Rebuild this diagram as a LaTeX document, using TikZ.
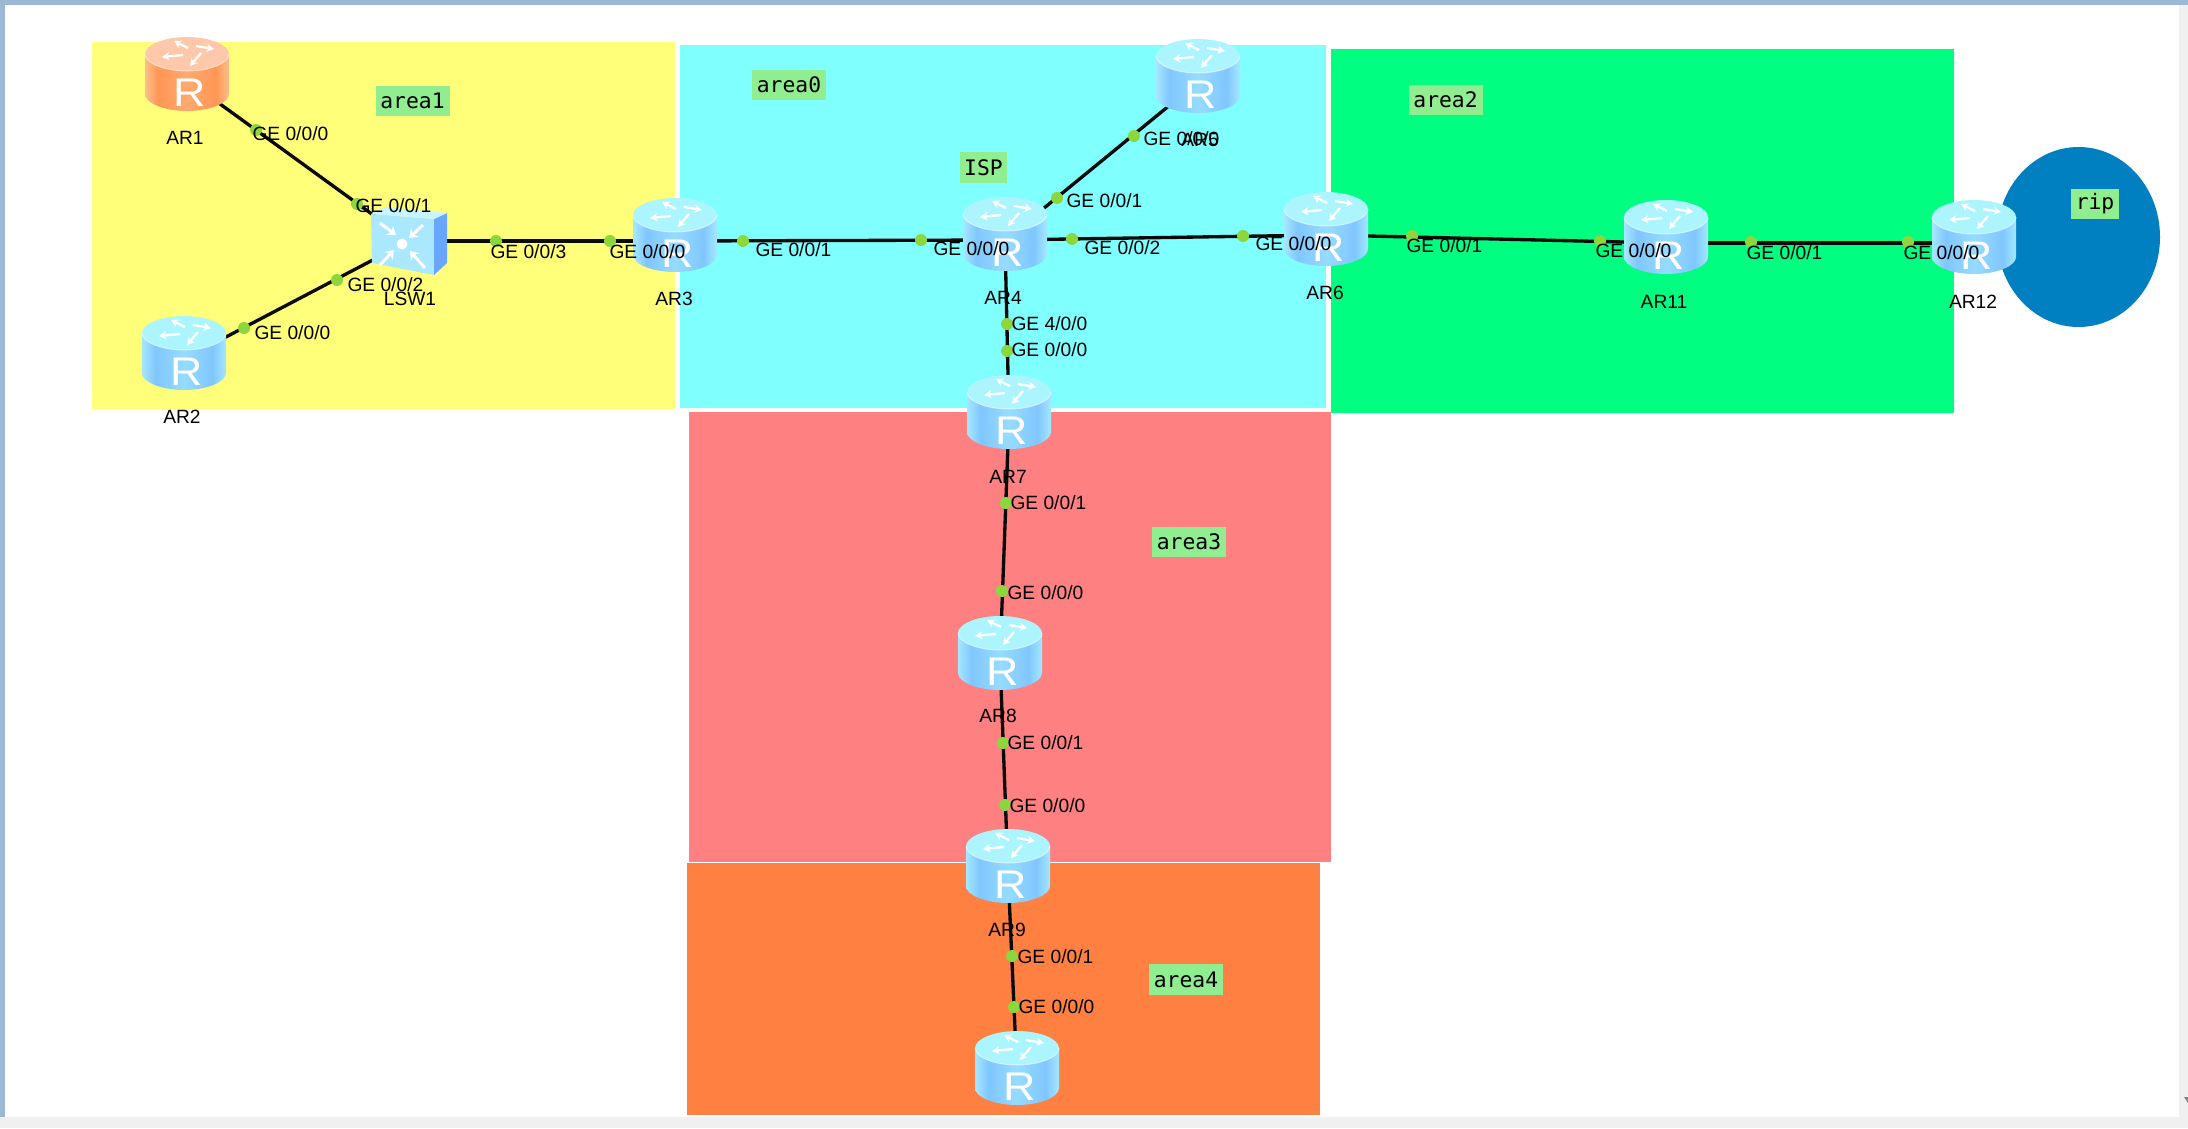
\documentclass[tikz,border=0pt]{standalone}
\usepackage{fontspec}
\setmainfont{Liberation Sans}
\setmonofont{DejaVu Sans Mono}
\usetikzlibrary{arrows.meta}

\definecolor{areaone}{RGB}{255,255,122}
\definecolor{areazero}{RGB}{128,255,255}
\definecolor{areatwo}{RGB}{0,255,128}
\definecolor{areathree}{RGB}{255,128,128}
\definecolor{areafour}{RGB}{255,128,64}
\definecolor{ripblue}{RGB}{0,128,192}
\definecolor{framecol}{RGB}{157,184,210}
\definecolor{portgreen}{RGB}{140,215,60}
\definecolor{tagback}{RGB}{144,238,144}
\definecolor{topblue}{RGB}{172,245,255}
\definecolor{toporange}{RGB}{255,200,170}

\pgfdeclarehorizontalshading{routerblue}{100bp}{color(0bp)=(rgb,255:red,165;green,232;blue,255);
 color(25bp)=(rgb,255:red,165;green,232;blue,255); color(33bp)=(rgb,255:red,128;green,198;blue,255);
 color(50bp)=(rgb,255:red,150;green,220;blue,255); color(67bp)=(rgb,255:red,128;green,198;blue,255);
 color(75bp)=(rgb,255:red,165;green,232;blue,255); color(100bp)=(rgb,255:red,165;green,232;blue,255)}
\pgfdeclarehorizontalshading{routerorange}{100bp}{color(0bp)=(rgb,255:red,255;green,190;blue,140);
 color(25bp)=(rgb,255:red,255;green,190;blue,140); color(33bp)=(rgb,255:red,255;green,150;blue,85);
 color(50bp)=(rgb,255:red,255;green,170;blue,110); color(67bp)=(rgb,255:red,255;green,150;blue,85);
 color(75bp)=(rgb,255:red,255;green,190;blue,140); color(100bp)=(rgb,255:red,255;green,190;blue,140)}

\tikzset{every picture/.style={line width=0.75pt},
  link/.style={line width=2.5pt,color={rgb, 255:red, 10; green, 10; blue, 10 }},
  anchorpt/.style={inner sep=0pt,minimum size=0pt},
  portdot/.style={circle,fill=portgreen,inner sep=0pt,minimum size=9pt},
  portlabel/.style={anchor=west,inner sep=0pt,font=\fontsize{14.4}{16}\selectfont},
  devlabel/.style={anchor=center,inner sep=0pt,font=\fontsize{14.4}{16}\selectfont},
  areatag/.style={fill=tagback,inner sep=0pt,minimum width=55.5pt,minimum height=23.2pt,font=\fontsize{16}{18}\ttfamily},
  isptag/.style={areatag,minimum width=35.5pt},
  iconarrow/.style={draw=white,line width=1.7pt,-{Stealth[length=5.5pt,width=6pt]}},
  switcharrow/.style={draw=white,line width=2.2pt,-{Stealth[length=6pt,width=8.5pt]}},
  pics/routericon/.style n args={2}{code={
    \begin{scope}[yscale=-1]
    \shade [shading=#1] (-42,-26) -- (-42,14) .. controls (-42,23) and (-23,31) .. (0,31) .. controls (23,31) and (42,23) .. (42,14) -- (42,-26) -- cycle ;
    \fill [#2] (-42,-26) .. controls (-42,-35) and (-23,-43) .. (0,-43) .. controls (23,-43) and (42,-35) .. (42,-26) .. controls (42,-17) and (23,-9) .. (0,-9) .. controls (-23,-9) and (-42,-17) .. (-42,-26) -- cycle ;
    \draw [white,opacity=0.5] (-42,-26) .. controls (-42,-17) and (-23,-9) .. (0,-9) .. controls (23,-9) and (42,-17) .. (42,-26) ;
    \draw [iconarrow] (1,-32) -- (-13,-39) ;
    \draw [iconarrow] (9,-34) -- (27,-31) ;
    \draw [iconarrow] (-4,-25) -- (-25,-23) ;
    \draw [iconarrow] (14,-27) -- (3,-14) ;
    \node (-R) at (2.5,26) [anchor=base,inner sep=0pt,text=white,font=\fontsize{30}{31}\selectfont] {\scalebox{1.12}[1]{R}};
    \end{scope}
  }},
}

\begin{document}
\begin{tikzpicture}[x=0.75pt,y=0.75pt,yscale=-1,xscale=1]

%Window
\fill [color={rgb, 255:red, 240; green, 240; blue, 240 }] (0,0) rectangle (2188,1128) ;
\fill [white] (5,5) rectangle (2179,1117) ;
\fill [framecol] (0,0) rectangle (2188,5) ;
\fill [framecol] (0,0) rectangle (5,1117) ;
\fill [color={rgb, 255:red, 130; green, 130; blue, 130 }] (2184,1097) -- (2188,1097) -- (2188,1103) -- cycle ;

%Areas
\fill [areaone] (92,42) rectangle (675,409) ;
\fill [areazero] (680,45) rectangle (1326,408) ;
\fill [areatwo] (1331,49) rectangle (1954,413) ;
\fill [areathree] (689,412) rectangle (1331,862) ;
\fill [areafour] (687,863) rectangle (1320,1115) ;
%Shape: Ellipse
\fill [ripblue] (2078.5,237) ellipse [x radius=81.5,y radius=90] ;

%Link ends
\node [anchorpt] (AR1) at (187,80) {};
\node [anchorpt] (AR2) at (184,359) {};
\node [anchorpt] (LSW1) at (409,241) {};
\node [anchorpt] (AR3) at (675,241) {};
\node [anchorpt] (AR4) at (1005,240) {};
\node [anchorpt] (AR5) at (1198,82) {};
\node [anchorpt] (AR6) at (1326,235) {};
\node [anchorpt] (AR7) at (1009,418) {};
\node [anchorpt] (AR8) at (1000,659) {};
\node [anchorpt] (AR9) at (1008,872) {};
\node [anchorpt] (AR10) at (1017,1074) {};
\node [anchorpt] (AR11) at (1666,243) {};
\node [anchorpt] (AR12) at (1974,243) {};

%Straight Lines
\draw [link] (AR1) -- (LSW1) ;
\draw [link] (AR2) -- (LSW1) ;
\draw [link] (LSW1) -- (AR3) ;
\draw [link] (AR3) -- (AR4) ;
\draw [link] (AR4) -- (AR5) ;
\draw [link] (AR4) -- (AR6) ;
\draw [link] (AR4) -- (AR7) ;
\draw [link] (AR7) -- (AR8) ;
\draw [link] (AR8) -- (AR9) ;
\draw [link] (AR9) -- (AR10) ;
\draw [link] (AR6) -- (AR11) ;
\draw [link] (AR11) -- (AR12) ;

%Routers
\pic (AR1i) at (AR1) {routericon={routerorange}{toporange}};
\pic (AR2i) at (AR2) {routericon={routerblue}{topblue}};
\pic (AR3i) at (AR3) {routericon={routerblue}{topblue}};
\pic (AR4i) at (AR4) {routericon={routerblue}{topblue}};
\pic (AR5i) at (AR5) {routericon={routerblue}{topblue}};
\pic (AR6i) at (AR6) {routericon={routerblue}{topblue}};
\pic (AR7i) at (AR7) {routericon={routerblue}{topblue}};
\pic (AR8i) at (AR8) {routericon={routerblue}{topblue}};
\pic (AR9i) at (AR9) {routericon={routerblue}{topblue}};
\pic (AR10i) at (AR10) {routericon={routerblue}{topblue}};
\pic (AR11i) at (AR11) {routericon={routerblue}{topblue}};
\pic (AR12i) at (AR12) {routericon={routerblue}{topblue}};

%Switch
\begin{scope}[shift={(LSW1)}]
\fill [color={rgb, 255:red, 170; green, 232; blue, 255 }] (-38,-27) -- (25,-22) -- (25,34) -- (-37,22) -- cycle ;
\fill [color={rgb, 255:red, 106; green, 165; blue, 255 }] (25,-22) -- (38,-28) -- (38,22) -- (25,34) -- cycle ;
\fill [color={rgb, 255:red, 200; green, 245; blue, 255 }] (-38,-27) -- (-24,-34) -- (38,-28) -- (25,-22) -- cycle ;
\fill [white] (-7,3) circle [x radius=5.5,y radius=5.5] ;
\draw [switcharrow] (-29,-18) -- (-13,-6) ;
\draw [switcharrow] (14,-16) -- (0,-3) ;
\draw [switcharrow] (-29,24) -- (-15,9) ;
\draw [switcharrow] (16,27) -- (1,10) ;
\end{scope}

%Shape: Circle
\node [portdot] (AR1d0) at (256,130) {};
\node [portdot] (LSW1d1) at (357,204) {};
\node [portdot] (LSW1d2) at (337,280) {};
\node [portdot] (AR2d0) at (244,328) {};
\node [portdot] (LSW1d3) at (496,241) {};
\node [portdot] (AR3d0) at (610,241) {};
\node [portdot] (AR3d1) at (743,241) {};
\node [portdot] (AR4d0) at (921,240) {};
\node [portdot] (AR4d1) at (1057,198) {};
\node [portdot] (AR5d0) at (1134,136) {};
\node [portdot] (AR4d2) at (1072,239) {};
\node [portdot] (AR6d0) at (1243,236) {};
\node [portdot] (AR4d4) at (1007,324) {};
\node [portdot] (AR7d0) at (1007,351) {};
\node [portdot] (AR7d1) at (1006,503) {};
\node [portdot] (AR8d0) at (1002,591) {};
\node [portdot] (AR8d1) at (1003,743) {};
\node [portdot] (AR9d0) at (1005,805) {};
\node [portdot] (AR9d1) at (1012,956) {};
\node [portdot] (AR10d0) at (1014,1007) {};
\node [portdot] (AR6d1) at (1412,236) {};
\node [portdot] (AR11d0) at (1600,241) {};
\node [portdot] (AR11d1) at (1751,242) {};
\node [portdot] (AR12d0) at (1908,242) {};

% Text Node
\draw (185,138) node [devlabel] (AR1t) {AR1};
\draw (182,417) node [devlabel] (AR2t) {AR2};
\draw (410,299) node [devlabel] (LSW1t) {LSW1};
\draw (674,299) node [devlabel] (AR3t) {AR3};
\draw (1003,298) node [devlabel] (AR4t) {AR4};
\draw (1200,140) node [devlabel] (AR5t) {AR5};
\draw (1325,293) node [devlabel] (AR6t) {AR6};
\draw (1008,477) node [devlabel] (AR7t) {AR7};
\draw (998,716) node [devlabel] (AR8t) {AR8};
\draw (1007,930) node [devlabel] (AR9t) {AR9};
\draw (1664,302) node [devlabel] (AR11t) {AR11};
\draw (1973,302) node [devlabel] (AR12t) {AR12};

% Text Node
\draw (252,134) node [portlabel] (AR1l0) {GE 0/0/0};
\draw (355,206) node [portlabel] (LSW1l1) {GE 0/0/1};
\draw (347,285) node [portlabel] (LSW1l2) {GE 0/0/2};
\draw (254,333) node [portlabel] (AR2l0) {GE 0/0/0};
\draw (490,252) node [portlabel] (LSW1l3) {GE 0/0/3};
\draw (609,252) node [portlabel] (AR3l0) {GE 0/0/0};
\draw (755,250) node [portlabel] (AR3l1) {GE 0/0/1};
\draw (933,249) node [portlabel] (AR4l0) {GE 0/0/0};
\draw (1066,201) node [portlabel] (AR4l1) {GE 0/0/1};
\draw (1143,139) node [portlabel] (AR5l0) {GE 0/0/0};
\draw (1084,248) node [portlabel] (AR4l2) {GE 0/0/2};
\draw (1255,244) node [portlabel] (AR6l0) {GE 0/0/0};
\draw (1011,324) node [portlabel] (AR4l4) {GE 4/0/0};
\draw (1011,350) node [portlabel] (AR7l0) {GE 0/0/0};
\draw (1010,503) node [portlabel] (AR7l1) {GE 0/0/1};
\draw (1007,593) node [portlabel] (AR8l0) {GE 0/0/0};
\draw (1007,743) node [portlabel] (AR8l1) {GE 0/0/1};
\draw (1009,806) node [portlabel] (AR9l0) {GE 0/0/0};
\draw (1017,957) node [portlabel] (AR9l1) {GE 0/0/1};
\draw (1018,1007) node [portlabel] (AR10l0) {GE 0/0/0};
\draw (1406,246) node [portlabel] (AR6l1) {GE 0/0/1};
\draw (1595,251) node [portlabel] (AR11l0) {GE 0/0/0};
\draw (1746,253) node [portlabel] (AR11l1) {GE 0/0/1};
\draw (1903,253) node [portlabel] (AR12l0) {GE 0/0/0};

% Text Node
\draw (412.5,101) node [areatag] (area1t) {area1};
\draw (789,85) node [areatag] (area0t) {area0};
\draw (1445.5,100) node [areatag] (area2t) {area2};
\draw (1189,542) node [areatag] (area3t) {area3};
\draw (1186,979.5) node [areatag] (area4t) {area4};
\draw (983.5,167.5) node [isptag] (ISPt) {ISP};
\draw (2095,204) node [isptag] (ript) {rip};

\pgfresetboundingbox
\path [use as bounding box] (0,0) rectangle (2188,1128);

\end{tikzpicture}
\end{document}
